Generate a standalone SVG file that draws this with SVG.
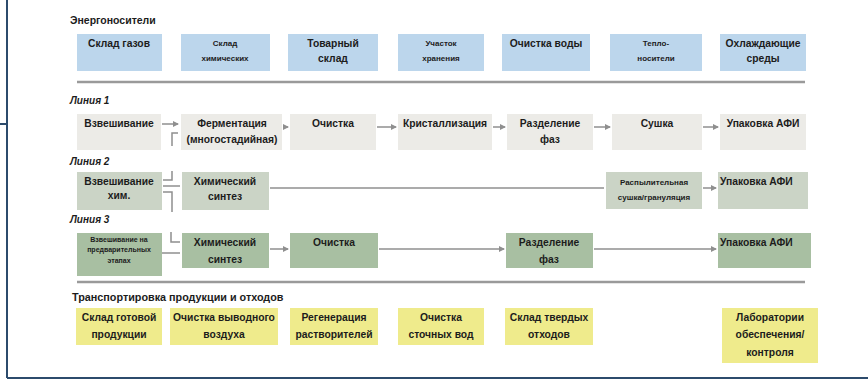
<svg xmlns="http://www.w3.org/2000/svg" width="868" height="380" viewBox="0 0 868 380">
<defs>
<style>
text{font-family:"Liberation Sans",Arial,sans-serif;font-weight:bold;fill:#1c1c1c;text-anchor:middle}
.t{font-size:10.3px}
.s{font-size:8px}
.xs{font-size:7px}
.h{font-size:10px;text-anchor:start;font-style:italic}
.h0{font-size:10.5px;text-anchor:start}
.tr{font-size:10.8px;text-anchor:start}
.l{text-anchor:start}
.blue{fill:#bcd6ec}
.g1{fill:#ecebe7}
.g2{fill:#cbd4c6}
.g3{fill:#a8bfa2}
.y{fill:#efeb8c}
.c{stroke:#8f8f8f;stroke-width:1.5;fill:none}
.sep{stroke:#9a9a9a;stroke-width:2.5}
</style>
<marker id="ah" viewBox="0 0 6 6" refX="5" refY="3" markerWidth="4" markerHeight="4" orient="auto"><path d="M0,0L6,3L0,6z" fill="#8f8f8f"/></marker>
</defs>
<rect width="868" height="380" fill="#ffffff"/>
<g id="frame" stroke="#2c4b6c" stroke-width="2" fill="none">
<line x1="7" y1="0" x2="7" y2="378"/>
<line x1="7" y1="378" x2="868" y2="378"/>
<line x1="0" y1="124" x2="7" y2="124"/>
</g>
<text class="h0" x="70" y="24">Энергоносители</text>
<g id="e1"><rect class="blue" x="77" y="34" width="85" height="37"/><text class="t" x="119" y="47">Склад газов</text></g>
<g id="e2"><rect class="blue" x="181" y="34" width="89" height="37"/><text class="s" x="225" y="46">Склад</text><text class="s" x="225" y="61">химических</text></g>
<g id="e3"><rect class="blue" x="288" y="34" width="90" height="37"/><text class="t" x="333" y="47">Товарный</text><text class="t" x="333" y="62">склад</text></g>
<g id="e4"><rect class="blue" x="398" y="34" width="86" height="37"/><text class="s" x="441" y="46">Участок</text><text class="s" x="441" y="61">хранения</text></g>
<g id="e5"><rect class="blue" x="502" y="34" width="88" height="37"/><text class="t" x="546" y="47">Очистка воды</text></g>
<g id="e6"><rect class="blue" x="610" y="34" width="92" height="37"/><text class="s" x="656" y="46">Тепло-</text><text class="s" x="656" y="61">носители</text></g>
<g id="e7"><rect class="blue" x="720" y="34" width="86" height="37"/><text class="t" x="763" y="47">Охлаждающие</text><text class="t" x="763" y="62">среды</text></g>
<line class="sep" x1="77" y1="82" x2="805" y2="82"/>
<text class="h" x="70" y="104">Линия 1</text>
<g id="a1"><rect class="g1" x="77" y="114" width="84" height="36"/><text class="t" x="119" y="127">Взвешивание</text></g>
<g id="a2"><rect class="g1" x="181" y="114" width="101" height="36"/><text class="t" x="232" y="127">Ферментация</text><text class="t" x="232" y="143">(многостадийная)</text></g>
<g id="a3"><rect class="g1" x="290" y="114" width="86" height="36"/><text class="t" x="333" y="127">Очистка</text></g>
<g id="a4"><rect class="g1" x="398" y="114" width="94" height="36"/><text class="t" x="445" y="127">Кристаллизация</text></g>
<g id="a5"><rect class="g1" x="507" y="114" width="86" height="36"/><text class="t" x="550" y="127">Разделение</text><text class="t" x="550" y="143">фаз</text></g>
<g id="a6"><rect class="g1" x="612" y="114" width="90" height="36"/><text class="t" x="657" y="127">Сушка</text></g>
<g id="a7"><rect class="g1" x="720" y="114" width="86" height="36"/><text class="t" x="763" y="127">Упаковка АФИ</text></g>
<text class="h" x="70" y="165">Линия 2</text>
<g id="b1"><rect class="g2" x="77" y="172" width="85" height="38"/><text class="t" x="119" y="185">Взвешивание</text><text class="t" x="119" y="199">хим.</text></g>
<g id="b2"><rect class="g2" x="182" y="172" width="87" height="38"/><text class="t" x="225" y="185">Химический</text><text class="t" x="225" y="200">синтез</text></g>
<g id="b3"><rect class="g2" x="606" y="172" width="96" height="37"/><text class="s" x="654" y="185">Распылительная</text><text class="s" x="654" y="200">сушка/грануляция</text></g>
<g id="b4"><rect class="g2" x="718" y="172" width="90" height="37"/><text class="t l" x="720" y="185">Упаковка АФИ</text></g>
<text class="h" x="70" y="223">Линия 3</text>
<g id="c1"><rect class="g3" x="77" y="233" width="85" height="43"/><text class="xs" x="119" y="242">Взвешивание на</text><text class="xs" x="119" y="252">предварительных</text><text class="xs" x="119" y="263">этапах</text></g>
<g id="c2"><rect class="g3" x="182" y="233" width="87" height="35"/><text class="t" x="225" y="246">Химический</text><text class="t" x="225" y="263">синтез</text></g>
<g id="c3"><rect class="g3" x="290" y="233" width="88" height="35"/><text class="t" x="334" y="246">Очистка</text></g>
<g id="c4"><rect class="g3" x="506" y="233" width="87" height="35"/><text class="t" x="549" y="246">Разделение</text><text class="t" x="549" y="263">фаз</text></g>
<g id="c5"><rect class="g3" x="718" y="233" width="93" height="35"/><text class="t l" x="720" y="246">Упаковка АФИ</text></g>
<line class="sep" x1="77" y1="282" x2="805" y2="282"/>
<text class="tr" x="72" y="301">Транспортировка продукции и отходов</text>
<g id="d1"><rect class="y" x="76" y="308" width="86" height="37"/><text class="t" x="119" y="321">Склад готовой</text><text class="t" x="119" y="338">продукции</text></g>
<g id="d2"><rect class="y" x="170" y="308" width="108" height="37"/><text class="t" x="224" y="321">Очистка выводного</text><text class="t" x="224" y="338">воздуха</text></g>
<g id="d3"><rect class="y" x="290" y="308" width="88" height="37"/><text class="t" x="334" y="321">Регенерация</text><text class="t" x="334" y="338">растворителей</text></g>
<g id="d4"><rect class="y" x="398" y="308" width="86" height="37"/><text class="t" x="441" y="321">Очистка</text><text class="t" x="441" y="338">сточных вод</text></g>
<g id="d5"><rect class="y" x="505" y="308" width="88" height="37"/><text class="t" x="549" y="321">Склад твердых</text><text class="t" x="549" y="338">отходов</text></g>
<g id="d6"><rect class="y" x="722" y="308" width="96" height="55"/><text class="t" x="770" y="321">Лаборатории</text><text class="t" x="770" y="338">обеспечения/</text><text class="t" x="770" y="356">контроля</text></g>
<g id="connectors">
<line class="c" x1="162" y1="124" x2="178" y2="124" marker-end="url(#ah)"/>
<polyline class="c" points="172,146 172,133 178,133"/>
<line class="c" x1="283" y1="127" x2="288" y2="127" marker-end="url(#ah)"/>
<line class="c" x1="377" y1="127" x2="396" y2="127" marker-end="url(#ah)"/>
<line class="c" x1="493" y1="127" x2="505" y2="127" marker-end="url(#ah)"/>
<line class="c" x1="594" y1="127" x2="610" y2="127" marker-end="url(#ah)"/>
<line class="c" x1="703" y1="127" x2="718" y2="127" marker-end="url(#ah)"/>
<polyline class="c" points="163,180 172,180 172,171"/>
<line class="c" x1="163" y1="186" x2="180" y2="186"/>
<polyline class="c" points="163,192 172,192 172,212"/>
<line class="c" x1="270" y1="188" x2="604" y2="188"/>
<line class="c" x1="703" y1="188" x2="716" y2="188" marker-end="url(#ah)"/>
<polyline class="c" points="171,232 171,242 180,242"/>
<line class="c" x1="162" y1="253" x2="180" y2="253"/>
<line class="c" x1="270" y1="249" x2="288" y2="249" marker-end="url(#ah)"/>
<line class="c" x1="379" y1="249" x2="504" y2="249" marker-end="url(#ah)"/>
<line class="c" x1="594" y1="249" x2="716" y2="249" marker-end="url(#ah)"/>
</g>
</svg>
